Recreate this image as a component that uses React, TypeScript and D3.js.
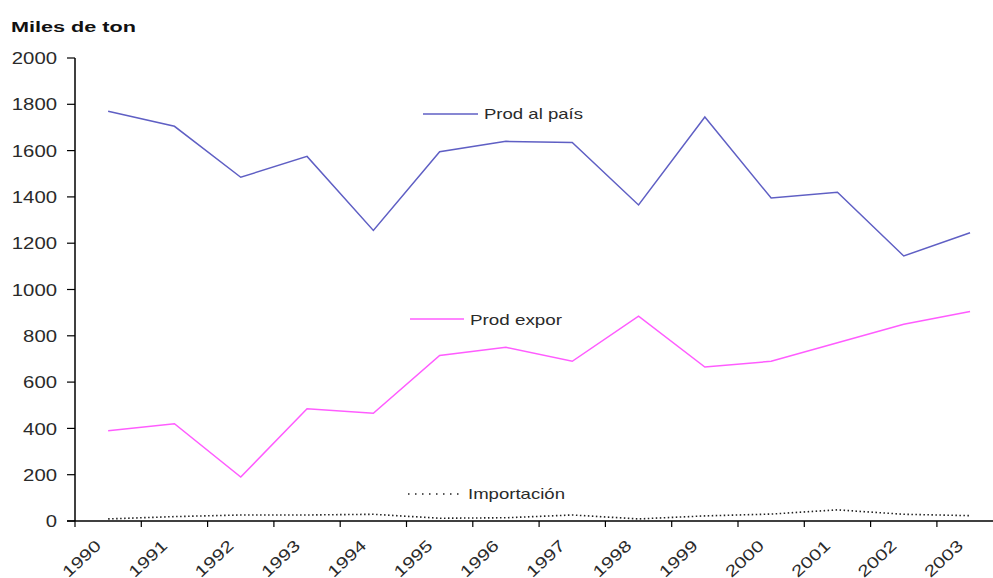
import React from "react";
import * as d3 from "d3";

const years = ["1990","1991","1992","1993","1994","1995","1996","1997","1998","1999","2000","2001","2002","2003"];
const prodPais = [1770, 1705, 1485, 1575, 1255, 1595, 1640, 1635, 1365, 1745, 1395, 1420, 1145, 1245];
const prodExpor = [390, 420, 190, 485, 465, 715, 750, 690, 885, 665, 690, 770, 850, 905];
const importacion = [9, 19, 26, 26, 29, 12, 14, 26, 9, 22, 30, 48, 29, 23];
const yTicks = [0, 200, 400, 600, 800, 1000, 1200, 1400, 1600, 1800, 2000];
const title = "Miles de ton";

const W = 993, H = 578;
const x0 = 75, band = 66.3, y0 = 521, yTop = 58;

export default function App() {
  const x = d3.scaleBand<string>().domain(years).range([x0, x0 + band * years.length]).padding(0);
  const y = d3.scaleLinear().domain([0, 2000]).range([y0, yTop]);
  const cx = (yr: string) => (x(yr) as number) + x.bandwidth() / 2;
  const line = d3.line<number>().x((_, i) => cx(years[i])).y((d) => y(d));
  const font = "'Liberation Sans', Arial, sans-serif";
  const txt = "#2a2a2a";

  return (
    <svg width={W} height={H} style={{ position: "absolute", left: 0, top: 0, background: "#fff" }} fontFamily={font}>
      <rect x={0} y={0} width={W} height={H} fill="#fff" />
      <text x={11} y={32} fontSize={14} fontWeight="bold" fill="#111" textLength={125} lengthAdjust="spacingAndGlyphs">{title}</text>
      {/* y axis */}
      <line x1={x0} x2={x0} y1={y(2000)} y2={y0} stroke="#000" strokeWidth={1.5} />
      {yTicks.map((t) => (
        <g key={t}>
          <line x1={67} x2={x0} y1={y(t)} y2={y(t)} stroke="#000" strokeWidth={1.2} />
          <text x={57} y={y(t)} dy="0.36em" textAnchor="end" fontSize={17} fill={txt}
            textLength={String(t).length * 11.3} lengthAdjust="spacingAndGlyphs">{t}</text>
        </g>
      ))}
      {/* x axis */}
      <line x1={67} x2={W} y1={y0} y2={y0} stroke="#000" strokeWidth={1.5} />
      {years.map((yr) => (
        <g key={yr}>
          <line x1={x(yr) as number} x2={x(yr) as number} y1={y0} y2={y0 + 6} stroke="#000" strokeWidth={1.2} />
          <text transform={`translate(${cx(yr) - 6},${547}) rotate(-43)`} textAnchor="end" fontSize={16} fill={txt}
            textLength={46} lengthAdjust="spacingAndGlyphs">{yr}</text>
        </g>
      ))}
      {/* series */}
      <path d={line(prodPais) as string} fill="none" stroke="#5F5FC4" strokeWidth={1.5} />
      <path d={line(prodExpor) as string} fill="none" stroke="#FF5CFF" strokeWidth={1.5} />
      <path d={line(importacion) as string} fill="none" stroke="#222" strokeWidth={1.6} strokeDasharray="1.5,2.5" />
      {/* inline legends */}
      <line x1={423} x2={478} y1={114} y2={114} stroke="#5F5FC4" strokeWidth={1.5} />
      <text x={484} y={119} fontSize={15} fill={txt} textLength={99} lengthAdjust="spacingAndGlyphs">Prod al país</text>
      <line x1={410} x2={464} y1={319} y2={319} stroke="#FF5CFF" strokeWidth={1.5} />
      <text x={470} y={325} fontSize={15} fill={txt} textLength={92} lengthAdjust="spacingAndGlyphs">Prod expor</text>
      <line x1={408} x2={463} y1={494} y2={494} stroke="#222" strokeWidth={1.4} strokeDasharray="1.5,5.5" />
      <text x={468} y={499} fontSize={15} fill={txt} textLength={97} lengthAdjust="spacingAndGlyphs">Importación</text>
    </svg>
  );
}
